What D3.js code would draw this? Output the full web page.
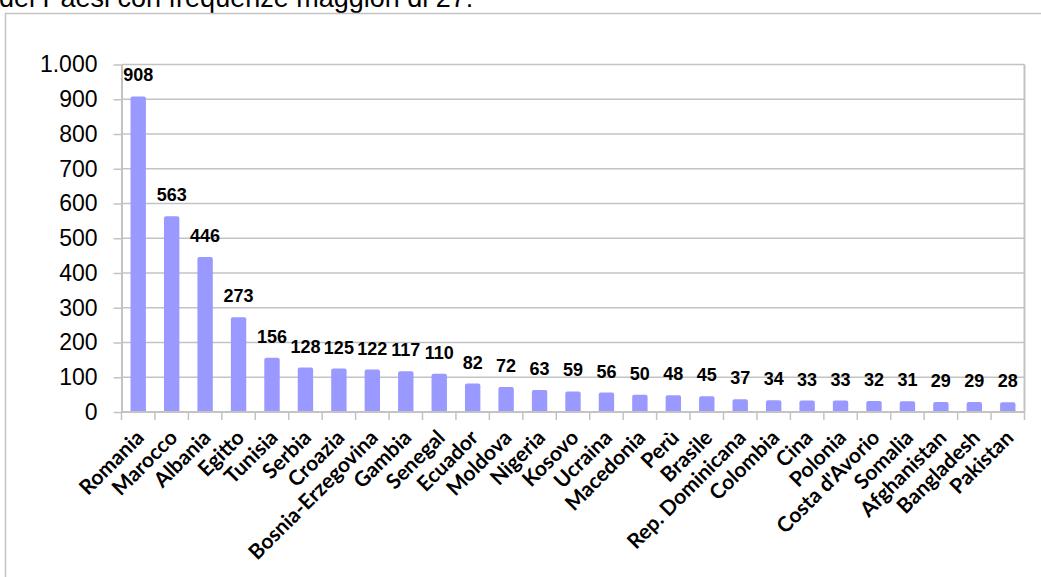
<!DOCTYPE html>
<html>
<head>
<meta charset="utf-8">
<script src="https://cdn.jsdelivr.net/npm/d3@7"></script>
<style>
  html, body { margin: 0; padding: 0; background: #fff; overflow: hidden; }
  svg { display: block; }
</style>
</head>
<body>
<svg id="chart" width="1041" height="577"></svg>
<script>
// Paesi di cittadinanza con frequenza > 27
const paesi = ["Romania", "Marocco", "Albania", "Egitto", "Tunisia", "Serbia", "Croazia",
  "Bosnia-Erzegovina", "Gambia", "Senegal", "Ecuador", "Moldova", "Nigeria", "Kosovo",
  "Ucraina", "Macedonia", "Perù", "Brasile", "Rep. Dominicana", "Colombia", "Cina",
  "Polonia", "Costa d'Avorio", "Somalia", "Afghanistan", "Bangladesh", "Pakistan"];
const frequenze = [908, 563, 446, 273, 156, 128, 125, 122, 117, 110, 82, 72, 63, 59,
  56, 50, 48, 45, 37, 34, 33, 33, 32, 31, 29, 29, 28];
const yTicks = [0, 100, 200, 300, 400, 500, 600, 700, 800, 900, 1000];
const titolo = "dei Paesi con frequenze maggiori di 27:";

const svg = d3.select("#chart");
const W = 1041, H = 577;
const plot = { left: 121.5, right: 1024.5, top: 64.5, bottom: 412 };
const grey = "#c3c3c3";

// testo introduttivo (parzialmente fuori dal bordo superiore)
svg.append("text")
  .attr("x", -1).attr("y", 7)
  .attr("font-family", "Liberation Sans, Arial, sans-serif")
  .attr("font-size", 27)
  .attr("fill", "#000")
  .text(titolo);

// cornice del grafico
svg.append("rect")
  .attr("x", 5.5).attr("y", 13.5)
  .attr("width", W + 10).attr("height", H + 10)
  .attr("fill", "none").attr("stroke", grey).attr("stroke-width", 1.5);

const x = d3.scaleBand().domain(paesi).range([plot.left, plot.right]).paddingInner(0.54).paddingOuter(0.27);
const y = d3.scaleLinear().domain([0, 1000]).range([plot.bottom, plot.top]);

// griglia orizzontale
svg.append("g")
  .selectAll("line")
  .data(yTicks.filter(d => d > 0))
  .join("line")
  .attr("x1", plot.left).attr("x2", plot.right)
  .attr("y1", d => y(d)).attr("y2", d => y(d))
  .attr("stroke", grey).attr("stroke-width", 1.5);

// bordo destro dell'area del grafico
svg.append("line")
  .attr("x1", plot.right).attr("x2", plot.right)
  .attr("y1", plot.top).attr("y2", plot.bottom)
  .attr("stroke", grey).attr("stroke-width", 2);

// barre
const bw = x.bandwidth();
svg.append("g")
  .selectAll("path")
  .data(paesi)
  .join("path")
  .attr("fill", "#9999ff")
  .attr("d", (p, i) => {
    const x0 = x(p), x1 = x0 + bw, yt = y(frequenze[i]), yb = plot.bottom, r = 2;
    return `M${x0},${yb}V${yt + r}Q${x0},${yt} ${x0 + r},${yt}H${x1 - r}Q${x1},${yt} ${x1},${yt + r}V${yb}Z`;
  });

// etichette dei valori
svg.append("g")
  .selectAll("text")
  .data(paesi)
  .join("text")
  .attr("x", p => x(p) + bw / 2)
  .attr("y", (p, i) => y(frequenze[i]) - 15)
  .attr("text-anchor", "middle")
  .attr("font-family", "Liberation Sans, Arial, sans-serif")
  .attr("font-weight", "bold")
  .attr("font-size", 18)
  .attr("fill", "#000")
  .text((p, i) => frequenze[i]);

// asse Y
const fmt = d => d3.format(",")(d).replace(/,/g, ".");
const yAxis = svg.append("g")
  .attr("transform", `translate(${plot.left},0)`)
  .call(d3.axisLeft(y).tickValues(yTicks).tickSize(8).tickSizeOuter(0).tickPadding(16).tickFormat(fmt));
yAxis.select(".domain").attr("stroke", grey).attr("stroke-width", 2);
yAxis.selectAll(".tick line").attr("stroke", grey).attr("stroke-width", 1.5);
yAxis.selectAll(".tick text")
  .attr("font-family", "Liberation Sans, Arial, sans-serif")
  .attr("font-size", 23)
  .attr("fill", "#000");

// asse X: tacche ai confini delle categorie
const confini = d3.range(paesi.length + 1).map(i => plot.left + i * (plot.right - plot.left) / paesi.length);
svg.append("line")
  .attr("x1", plot.left).attr("x2", plot.right)
  .attr("y1", plot.bottom).attr("y2", plot.bottom)
  .attr("stroke", grey).attr("stroke-width", 2);
svg.append("g")
  .selectAll("line")
  .data(confini)
  .join("line")
  .attr("x1", d => d).attr("x2", d => d)
  .attr("y1", plot.bottom).attr("y2", plot.bottom + 8)
  .attr("stroke", grey).attr("stroke-width", 1.5);

// etichette delle categorie, ruotate di 45°
svg.append("g")
  .selectAll("text")
  .data(paesi)
  .join("text")
  .attr("text-anchor", "end")
  .attr("transform", p => `translate(${x(p) + bw / 2 + 7},${plot.bottom + 27}) rotate(-45)`)
  .attr("font-family", "Lato, 'Open Sans', sans-serif")
  .attr("font-weight", "bold")
  .attr("font-size", 21)
  .attr("fill", "#000")
  .text(p => p);
</script>
</body>
</html>
